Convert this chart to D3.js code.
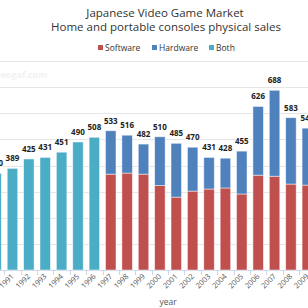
<!DOCTYPE html>
<html>
<head>
<meta charset="utf-8">
<script src="https://cdn.jsdelivr.net/npm/d3@7"></script>
<style>
  body { margin: 0; background: #fff; }
  svg { display: block; font-family: "Open Sans", sans-serif; }
</style>
</head>
<body>
<div class="vis-bars"></div>
<script>
const years = ["1990", "1991", "1992", "1993", "1994", "1995", "1996", "1997", "1998", "1999",
  "2000", "2001", "2002", "2003", "2004", "2005", "2006", "2007", "2008", "2009"];
// combined figure for the years where no split is available
const both = [370, 389, 425, 431, 451, 490, 508, null, null, null,
  null, null, null, null, null, null, null, null, null, null];
const software = [null, null, null, null, null, null, null, 367, 371, 367,
  323, 279, 302, 310, 314, 291, 363, 359, 329, 325];
const hardware = [null, null, null, null, null, null, null, 166, 145, 115,
  187, 206, 168, 121, 114, 164, 263, 329, 254, 218];
const seriesNames = ["Software", "Hardware", "Both"];
const yTicks = [0, 100, 200, 300, 400, 500, 600, 700, 800];

const colors = { Software: "#c0504d", Hardware: "#4f81bd", Both: "#4bacc6" };

const width = 308, height = 308;
const svg = d3.select(".vis-bars").append("svg")
  .attr("width", width).attr("height", height);

const x = d3.scaleBand().domain(years).range([-12.1, 315.5]).paddingInner(0.36).paddingOuter(0.18);
const y = d3.scaleLinear().domain([0, 800]).range([270, 61]);

// titles
svg.append("text").attr("x", 165).attr("y", 17).attr("text-anchor", "middle")
  .attr("font-size", 11.5).attr("fill", "#333").text("Japanese Video Game Market");
svg.append("text").attr("x", 166).attr("y", 31).attr("text-anchor", "middle")
  .attr("font-size", 11.5).attr("fill", "#333").text("Home and portable consoles physical sales");

// legend
const legendX = [98, 152, 209];
const lg = svg.append("g").selectAll("g").data(seriesNames).enter().append("g")
  .attr("transform", (d, i) => `translate(${legendX[i]},48)`);
lg.append("rect").attr("x", 0).attr("y", -3).attr("width", 5).attr("height", 5)
  .attr("fill", d => colors[d]);
lg.append("text").attr("x", 7).attr("y", 3).attr("font-size", 8.5).attr("fill", "#333")
  .text(d => d);

// watermark
svg.append("text").attr("x", 47).attr("y", 78).attr("text-anchor", "end")
  .attr("font-size", 9).attr("font-weight", "bold").attr("fill", "#f1f1f1").text("neogaf.com");

// grid
svg.append("g").selectAll("line").data(yTicks).enter().append("line")
  .attr("x1", 0).attr("x2", width)
  .attr("y1", d => Math.round(y(d)) + 0.5).attr("y2", d => Math.round(y(d)) + 0.5)
  .attr("stroke", "#e6e6e6");

// x axis
const xAxis = svg.append("g").attr("transform", `translate(0,${y(0)})`);
xAxis.append("line").attr("x1", 0).attr("x2", width).attr("y1", 0.5).attr("y2", 0.5)
  .attr("stroke", "#ccd6eb");
xAxis.selectAll(".tick").data(years).enter().append("line")
  .attr("x1", d => Math.round(x(d) - x.step() * x.paddingInner() / 2) + 0.5)
  .attr("x2", d => Math.round(x(d) - x.step() * x.paddingInner() / 2) + 0.5)
  .attr("y1", 0).attr("y2", 5).attr("stroke", "#ccd6eb");
xAxis.selectAll(".lbl").data(years).enter().append("text")
  .attr("transform", d => `translate(${x(d) + x.bandwidth() / 2 - 1},${4}) rotate(-45)`)
  .attr("text-anchor", "end").attr("dy", "0.55em")
  .attr("font-size", 7.5).attr("fill", "#555").text(d => d);
svg.append("text").attr("x", 168).attr("y", 305).attr("text-anchor", "middle")
  .attr("font-size", 8.5).attr("fill", "#555").text("year");

// bars
const rows = years.map((yr, i) => ({ year: yr, both: both[i], software: software[i], hardware: hardware[i] }));
const bars = svg.append("g");
rows.forEach(d => {
  const segs = [];
  if (d.both != null) segs.push({ key: "Both", y0: 0, y1: d.both });
  if (d.software != null) {
    segs.push({ key: "Software", y0: 0, y1: d.software });
    segs.push({ key: "Hardware", y0: d.software, y1: d.software + d.hardware });
  }
  bars.selectAll(null).data(segs).enter().append("rect")
    .attr("x", x(d.year)).attr("width", x.bandwidth())
    .attr("y", s => y(s.y1)).attr("height", s => y(s.y0) - y(s.y1))
    .attr("fill", s => colors[s.key])
    .attr("stroke", "#fff").attr("stroke-opacity", 0.6).attr("stroke-width", 0.8);
});

// totals
const totals = rows.map(d => ({ year: d.year, v: d.both != null ? d.both : d.software + d.hardware }));
svg.append("g").selectAll("text").data(totals).enter().append("text")
  .attr("x", d => x(d.year) + x.bandwidth() / 2).attr("y", d => y(d.v) - 7)
  .attr("text-anchor", "middle").attr("font-size", 8).attr("font-weight", "bold")
  .attr("fill", "#222").attr("stroke", "#fff").attr("stroke-width", 1.5)
  .attr("paint-order", "stroke").text(d => d.v);
</script>
</body>
</html>
